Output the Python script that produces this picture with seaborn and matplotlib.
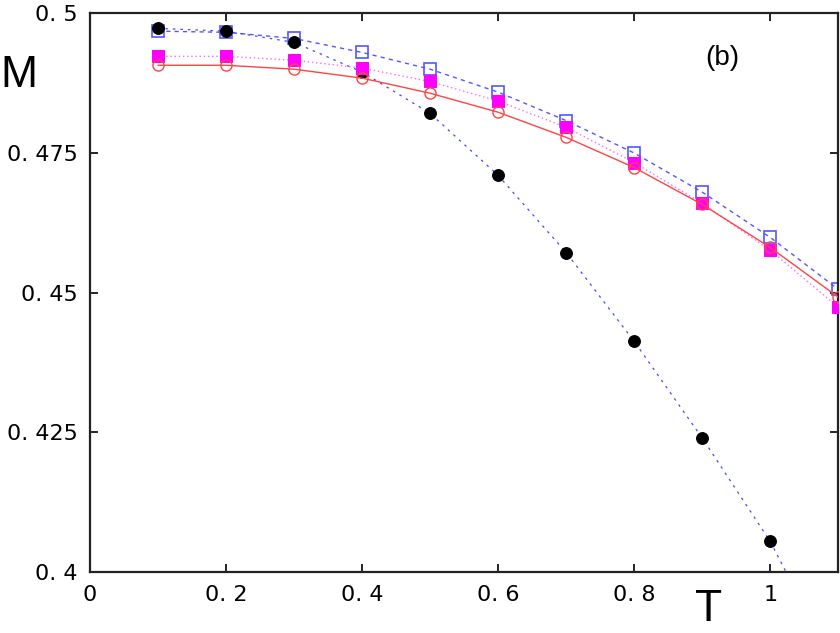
import matplotlib
matplotlib.use("Agg")
import matplotlib.pyplot as plt
import numpy as np
import pandas as pd
import seaborn as sns

sns.set_theme(style="ticks")
plt.rcParams["font.family"] = ["DejaVu Sans"]
plt.rcParams["text.color"] = "black"

# ---- data ----
T = [0.1, 0.2, 0.3, 0.4, 0.5, 0.6, 0.7, 0.8, 0.9, 1.0, 1.1]
m_black = [0.4973, 0.4968, 0.4948, 0.4895, 0.4821, 0.4710, 0.4572, 0.4413, 0.4240, 0.4055, 0.3819]
m_blue = [0.4968, 0.4966, 0.4955, 0.4930, 0.4900, 0.4859, 0.4808, 0.4750, 0.4680, 0.4599, 0.4506]
m_magenta = [0.4923, 0.4923, 0.4916, 0.4902, 0.4878, 0.4843, 0.4796, 0.4733, 0.4660, 0.4576, 0.4474]
m_red = [0.4907, 0.4907, 0.4900, 0.4884, 0.4857, 0.4823, 0.4778, 0.4724, 0.4658, 0.4581, 0.4492]

xticks = [0, 0.2, 0.4, 0.6, 0.8, 1.0]
xtick_labels = ["0", "0. 2", "0. 4", "0. 6", "0. 8", "1"]
yticks = [0.4, 0.425, 0.45, 0.475, 0.5]
ytick_labels = ["0. 4", "0. 425", "0. 45", "0. 475", "0. 5"]

fig = plt.figure(figsize=(8.4, 6.33), dpi=100)
ax = fig.add_axes([0.107, 0.096, 0.891, 0.883])

# blue open squares, dashed
sns.lineplot(x=T, y=m_blue, ax=ax, color="#5555ff", lw=1.0,
             marker="s", markersize=8, markerfacecolor="none",
             markeredgecolor="#5555ff", markeredgewidth=1.2, zorder=2)
ax.lines[-1].set_linestyle((0, (3, 3)))

# black filled circles, blue dotted
sns.lineplot(x=T, y=m_black, ax=ax, color="#4444ff", lw=0.9,
             marker="o", markersize=8.5, markerfacecolor="black",
             markeredgecolor="black", zorder=3)
ax.lines[-1].set_linestyle((0, (2, 4)))

# magenta filled squares, dotted
sns.lineplot(x=T, y=m_magenta, ax=ax, color="#ff66ff", lw=1.0,
             marker="s", markersize=8, markerfacecolor="#ff00ff",
             markeredgecolor="#ff00ff", zorder=4)
ax.lines[-1].set_linestyle((0, (1, 2)))

# red open circles, solid
sns.lineplot(x=T, y=m_red, ax=ax, color="#ff4444", lw=1.0,
             marker="o", markersize=8, markerfacecolor="none",
             markeredgecolor="#ff4444", markeredgewidth=1.0, zorder=5)

ax.set_xlim(0, 1.1)
ax.set_ylim(0.4, 0.5)
ax.set_xticks(xticks)
ax.set_xticklabels(xtick_labels)
ax.set_yticks(yticks)
ax.set_yticklabels(ytick_labels)
ax.tick_params(direction="in", length=6, width=1.2, top=True, right=True,
               labelsize=16, colors="black")
ax.tick_params(axis="y", pad=9)
ax.tick_params(axis="x", pad=9)
for s in ax.spines.values():
    s.set_linewidth(1.6)
    s.set_color("#222222")
    s.set_visible(True)

fig.text(0.0, 0.88, "M", fontsize=32, family="Liberation Sans", va="center", ha="left")
fig.text(0.843, 0.005, "T", fontsize=32, family="Liberation Sans", va="bottom", ha="center")
ax.text(0.845, 0.92, "(b)", transform=ax.transAxes, fontsize=20,
        family="Liberation Sans", ha="center", va="center")

fig.savefig("out.png", dpi=100)
